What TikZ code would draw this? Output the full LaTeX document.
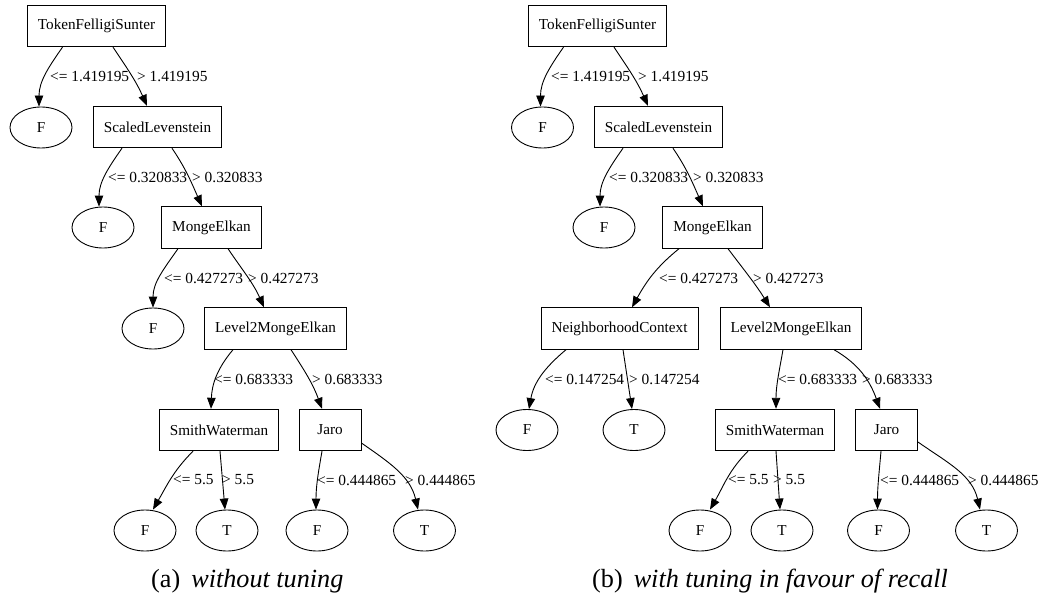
\documentclass[tikz,border=0pt]{standalone}
\usepackage{fontspec}
\setmainfont{Liberation Serif}
\usetikzlibrary{arrows.meta,positioning,shapes.geometric}

\begin{document}
\begin{tikzpicture}[x=1pt, y=1pt,
  test/.style={draw, line width=0.9pt, rectangle, minimum width=62pt,
    minimum height=41.5pt, inner xsep=10.5pt, font=\fontsize{15.2}{18}\selectfont},
  leaf/.style={draw, line width=0.9pt, ellipse, minimum width=62pt,
    minimum height=41pt, inner sep=0pt, font=\fontsize{15.2}{18}\selectfont},
  cond/.style={anchor=west, inner sep=0pt, font=\fontsize{15.4}{18}\selectfont},
  edge/.style={-{Triangle[length=11pt, width=8.5pt]}, line width=0.9pt},
  subcap/.style={anchor=base west, inner sep=0pt, font=\fontsize{26.2}{30}\selectfont}]
  \useasboundingbox (0,0) rectangle (1046,-599);

  % (a) without tuning
  \node[test] (tfsa) at (96.5,-26) {TokenFelligiSunter};
  \node[leaf] (f1a) at (41,-127.5) {F};
  \node[test] (sla) at (157.5,-127) {ScaledLevenstein};
  \node[leaf] (f2a) at (103,-227.5) {F};
  \node[test] (mea) at (211.5,-227.5) {MongeElkan};
  \node[leaf] (f3a) at (153,-328.5) {F};
  \node[test] (l2mea) at (275.5,-328.5) {Level2MongeElkan};
  \node[test] (swa) at (219,-430) {SmithWaterman};
  \node[test] (jaroa) at (330,-430) {Jaro};
  \node[leaf] (swfa) at (145,-530.5) {F};
  \node[leaf] (swta) at (227,-530.5) {T};
  \node[leaf] (jarofa) at (317,-530.5) {F};
  \node[leaf] (jarota) at (424.5,-530.5) {T};

  \draw[edge] ([xshift=-34pt]tfsa.south) to[out=-125, in=90] ([xshift=-2pt]f1a.north);
  \draw[edge] ([xshift=16.5pt]tfsa.south) to[out=-56, in=114] ([xshift=-10.5pt]sla.north);
  \draw[edge] ([xshift=-35.5pt]sla.south) to[out=-125, in=90] ([xshift=-4pt]f2a.north);
  \draw[edge] ([xshift=14.5pt]sla.south) to[out=-56, in=114] ([xshift=-9.5pt]mea.north);
  \draw[edge] ([xshift=-33.5pt]mea.south) to[out=-125, in=90] (f3a.north);
  \draw[edge] ([xshift=16.5pt]mea.south) to[out=-56, in=114] ([xshift=-11.5pt]l2mea.north);
  \draw[edge] ([xshift=-42.5pt]l2mea.south) to[out=-130, in=88] ([xshift=-8pt]swa.north);
  \draw[edge] ([xshift=15.5pt]l2mea.south) to[out=-57, in=110] ([xshift=-8pt]jaroa.north);
  \draw[edge] ([xshift=-26pt]swa.south) to[out=-135, in=60] ([xshift=8pt]swfa.north);
  \draw[edge] ([xshift=1pt]swa.south) -- ([xshift=-2pt]swta.north);
  \draw[edge] ([xshift=-8pt]jaroa.south) to[out=-100, in=90] ([xshift=-1pt]jarofa.north);
  \draw[edge] ([yshift=-13pt]jaroa.east) to[out=-35, in=103] ([xshift=-6.5pt]jarota.north);

  \node[cond] (c1a) at (50,-77) {<= 1.419195};
  \node[cond] (c2a) at (137,-77) {> 1.419195};
  \node[cond] (c3a) at (108,-177) {<= 0.320833};
  \node[cond] (c4a) at (192,-177) {> 0.320833};
  \node[cond] (c5a) at (164,-278) {<= 0.427273};
  \node[cond] (c6a) at (248,-278) {> 0.427273};
  \node[cond] (c7a) at (214,-379) {<= 0.683333};
  \node[cond] (c8a) at (312,-379) {> 0.683333};
  \node[cond] (c9a) at (173,-480) {<= 5.5};
  \node[cond] (c10a) at (222,-480) {> 5.5};
  \node[cond] (c11a) at (317,-480) {<= 0.444865};
  \node[cond] (c12a) at (405,-480) {> 0.444865};

  \node[subcap] (capa) at (151,-587) {(a)\hspace{11pt}\textit{without tuning}};

  % (b) with tuning in favour of recall
  \node[test] (tfsb) at (597.5,-26) {TokenFelligiSunter};
  \node[leaf] (f1b) at (542.5,-127.5) {F};
  \node[test] (slb) at (658.5,-127) {ScaledLevenstein};
  \node[leaf] (f2b) at (604,-227.5) {F};
  \node[test] (meb) at (712.5,-227.5) {MongeElkan};
  \node[test] (ncb) at (619.5,-328.5) {NeighborhoodContext};
  \node[test] (l2meb) at (791,-328.5) {Level2MongeElkan};
  \node[leaf] (ncfb) at (527,-430) {F};
  \node[leaf] (nctb) at (634,-430) {T};
  \node[test] (swb) at (775,-430) {SmithWaterman};
  \node[test] (jarob) at (886.5,-430) {Jaro};
  \node[leaf] (swfb) at (700,-530.5) {F};
  \node[leaf] (swtb) at (782,-530.5) {T};
  \node[leaf] (jarofb) at (878.5,-530.5) {F};
  \node[leaf] (jarotb) at (986.5,-530.5) {T};

  \draw[edge] ([xshift=-34pt]tfsb.south) to[out=-125, in=90] ([xshift=-2pt]f1b.north);
  \draw[edge] ([xshift=16.5pt]tfsb.south) to[out=-56, in=114] ([xshift=-10.5pt]slb.north);
  \draw[edge] ([xshift=-35.5pt]slb.south) to[out=-125, in=90] ([xshift=-4pt]f2b.north);
  \draw[edge] ([xshift=14.5pt]slb.south) to[out=-56, in=114] ([xshift=-9.5pt]meb.north);
  \draw[edge] ([xshift=-33.5pt]meb.south) to[out=-141, in=61] ([xshift=12.5pt]ncb.north);
  \draw[edge] ([xshift=15.5pt]meb.south) to[out=-53, in=122] ([xshift=-21pt]l2meb.north);
  \draw[edge] ([xshift=-53.5pt]ncb.south) to[out=-140, in=80] ([xshift=2pt]ncfb.north);
  \draw[edge] ([xshift=3.5pt]ncb.south) -- ([xshift=-2pt]nctb.north);
  \draw[edge] ([xshift=-8pt]l2meb.south) to[out=-100, in=90] ([xshift=1pt]swb.north);
  \draw[edge] ([xshift=43pt]l2meb.south) to[out=-30, in=110] ([xshift=-6.5pt]jarob.north);
  \draw[edge] ([xshift=-27pt]swb.south) to[out=-135, in=60] ([xshift=10pt]swfb.north);
  \draw[edge] ([xshift=1pt]swb.south) -- ([xshift=-2pt]swtb.north);
  \draw[edge] ([xshift=-5.5pt]jarob.south) to[out=-95, in=90] ([xshift=-1pt]jarofb.north);
  \draw[edge] ([yshift=-12pt]jarob.east) to[out=-35, in=103] ([xshift=-6.5pt]jarotb.north);

  \node[cond] (c1b) at (551,-77) {<= 1.419195};
  \node[cond] (c2b) at (638,-77) {> 1.419195};
  \node[cond] (c3b) at (609,-177) {<= 0.320833};
  \node[cond] (c4b) at (693,-177) {> 0.320833};
  \node[cond] (c5b) at (659,-278) {<= 0.427273};
  \node[cond] (c6b) at (753,-278) {> 0.427273};
  \node[cond] (c7b) at (545,-379) {<= 0.147254};
  \node[cond] (c8b) at (629,-379) {> 0.147254};
  \node[cond] (c9b) at (778,-379) {<= 0.683333};
  \node[cond] (c10b) at (862,-379) {> 0.683333};
  \node[cond] (c11b) at (728,-480) {<= 5.5};
  \node[cond] (c12b) at (773,-480) {> 5.5};
  \node[cond] (c13b) at (880,-480) {<= 0.444865};
  \node[cond] (c14b) at (968,-480) {> 0.444865};

  \node[subcap] (capb) at (592,-587) {(b)\hspace{11pt}\textit{with tuning in favour of recall}};
\end{tikzpicture}
\end{document}
